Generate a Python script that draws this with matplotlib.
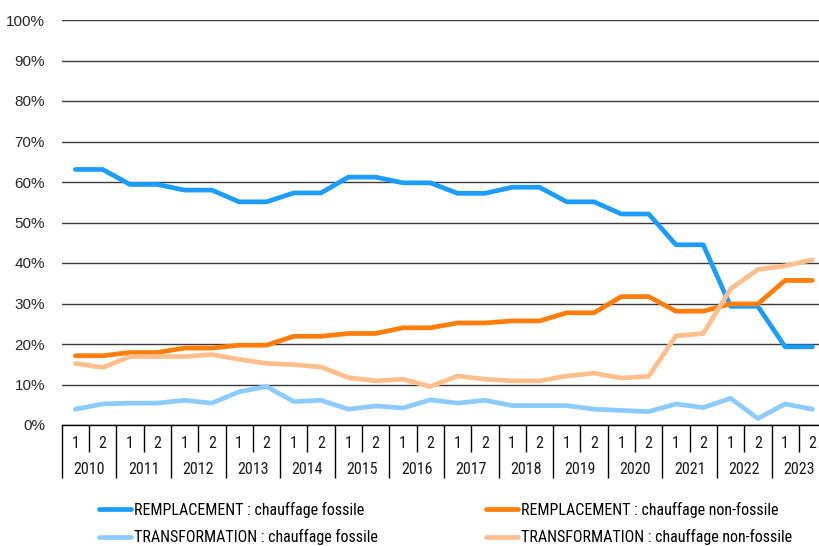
import matplotlib.pyplot as plt
from matplotlib.transforms import blended_transform_factory

narrow = ['Roboto Condensed', 'Archivo Narrow', 'DejaVu Sans']
plt.rcParams['font.family'] = ['Liberation Sans', 'DejaVu Sans']

# données (part en %), semestres 2010-1 ... 2023-2
years = ['2010', '2011', '2012', '2013', '2014', '2015', '2016',
         '2017', '2018', '2019', '2020', '2021', '2022', '2023']
semesters = ['1', '2']

rempl_fossile = [63.1, 63.1, 59.4, 59.4, 58.0, 58.0, 55.1, 55.1, 57.3, 57.3,
                 61.2, 61.2, 59.8, 59.8, 57.2, 57.2, 58.7, 58.7, 55.1, 55.1,
                 52.1, 52.1, 44.5, 44.5, 29.3, 29.3, 19.3, 19.3]
rempl_non_fossile = [17.1, 17.1, 17.9, 17.9, 19.0, 19.0, 19.7, 19.7, 21.9, 21.9,
                     22.6, 22.6, 24.0, 24.0, 25.2, 25.2, 25.7, 25.7, 27.7, 27.7,
                     31.7, 31.7, 28.1, 28.1, 29.9, 29.9, 35.7, 35.7]
transf_fossile = [3.9, 5.2, 5.4, 5.4, 6.1, 5.4, 8.2, 9.5, 5.8, 6.1,
                  3.9, 4.7, 4.2, 6.2, 5.4, 6.1, 4.8, 4.8, 4.8, 3.9,
                  3.6, 3.3, 5.2, 4.3, 6.6, 1.6, 5.2, 3.9]
transf_non_fossile = [15.2, 14.2, 16.9, 16.9, 16.9, 17.4, 16.2, 15.2, 14.9, 14.3,
                      11.7, 10.9, 11.3, 9.5, 12.1, 11.3, 10.9, 10.9, 12.1, 12.8,
                      11.6, 12.0, 22.0, 22.6, 33.6, 38.4, 39.3, 40.8]

series = [
    ('REMPLACEMENT : chauffage fossile', rempl_fossile, '#1c9cfc'),
    ('REMPLACEMENT : chauffage non-fossile', rempl_non_fossile, '#ff7d0a'),
    ('TRANSFORMATION : chauffage fossile', transf_fossile, '#8ccbff'),
    ('TRANSFORMATION : chauffage non-fossile', transf_non_fossile, '#ffbf8c'),
]

n = len(years) * len(semesters)
x = list(range(n))

fig = plt.figure(figsize=(8.19, 5.46), dpi=100)
ax = fig.add_axes([61.7 / 819, 1 - 425 / 546, 764.4 / 819, 405 / 546])

lines = []
for label, vals, col in series:
    ln, = ax.plot(x, vals, color=col, lw=3.4, label=label,
                  solid_capstyle='round', solid_joinstyle='round')
    lines.append(ln)

ax.set_xlim(-0.5, n - 0.5)
ax.set_ylim(0, 100)
ax.set_yticks(range(0, 101, 10))
ax.set_yticklabels([f'{v}%' for v in range(0, 101, 10)], fontsize=11, color='#262626')
ax.tick_params(axis='y', length=0, pad=12)
ax.yaxis.grid(True, color='#3a3a3a', lw=1.0)
ax.set_axisbelow(True)
for s in ['left', 'right', 'top']:
    ax.spines[s].set_visible(False)
ax.spines['bottom'].set_color('black')
ax.spines['bottom'].set_linewidth(1.0)

# axe des abscisses à deux niveaux (semestre / année)
ax.set_xticks([i - 0.5 for i in range(0, n + 1, 2)])
ax.set_xticklabels([])
ax.set_xticks([i - 0.5 for i in range(1, n, 2)], minor=True)
ax.tick_params(axis='x', which='major', direction='out', length=38, width=1.0, color='black')
ax.tick_params(axis='x', which='minor', direction='out', length=19.5, width=1.0, color='black')

tr = blended_transform_factory(ax.transData, fig.transFigure)
for i in x:
    ax.text(i, 1 - 443 / 546, semesters[i % 2], transform=tr, ha='center', va='center',
            fontsize=11.5, color='#1a1a1a', family=narrow)
for k, yr in enumerate(years):
    ax.text(2 * k + 0.5, 1 - 469 / 546, yr, transform=tr, ha='center', va='center',
            fontsize=11.5, color='#1a1a1a', family=narrow)

# légende : deux colonnes placées séparément
for col_lines, x0 in [((lines[0], lines[2]), 99), ((lines[1], lines[3]), 486)]:
    leg = fig.legend(col_lines, [l.get_label() for l in col_lines], frameon=False,
                     loc='center left', bbox_to_anchor=(x0 / 819, 1 - 523.5 / 546),
                     prop={'family': narrow, 'size': 11.5}, handlelength=2.0,
                     handletextpad=0.2, labelspacing=0.72, borderaxespad=0, borderpad=0)

fig.savefig('out.png', dpi=100)
